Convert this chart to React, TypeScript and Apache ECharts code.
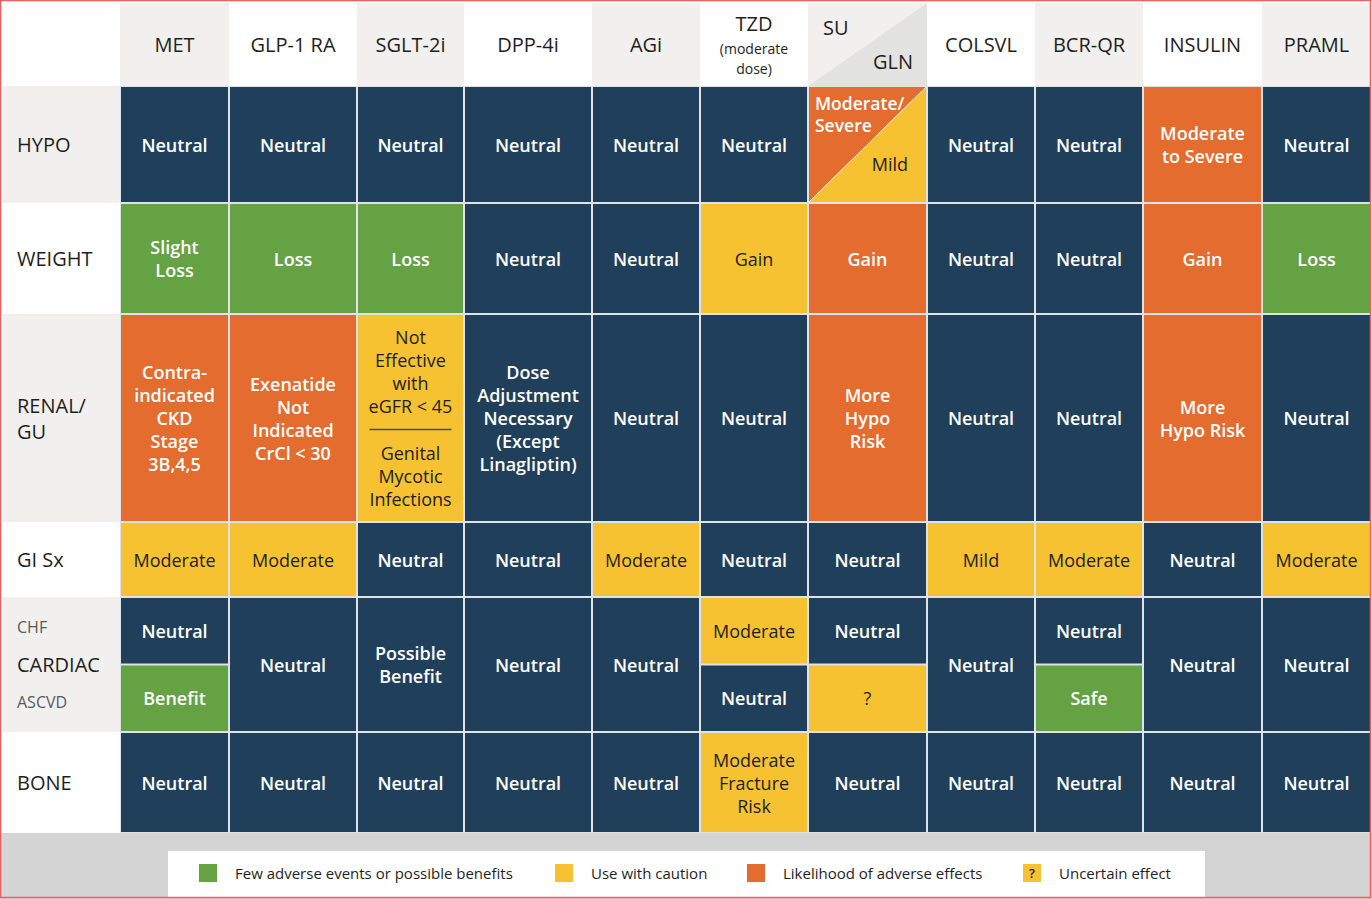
import React, { useEffect, useRef } from "react";
import * as echarts from "echarts";

// ---------------- data ----------------
const drugs = ["MET", "GLP-1 RA", "SGLT-2i", "DPP-4i", "AGi", "TZD", "SU|GLN", "COLSVL", "BCR-QR", "INSULIN", "PRAML"];
const tzdNote = "(moderate\ndose)";
const effects = ["HYPO", "WEIGHT", "RENAL/\nGU", "GI Sx", "CARDIAC", "BONE"];
const cardiacSub = ["CHF", "ASCVD"];

// level codes: N neutral, G benefit, Y caution, O adverse
const hypoLevel = ["N", "N", "N", "N", "N", "N", "O|Y", "N", "N", "O", "N"];
const hypoText = ["Neutral", "Neutral", "Neutral", "Neutral", "Neutral", "Neutral", "Moderate/\nSevere|Mild", "Neutral", "Neutral", "Moderate\nto Severe", "Neutral"];
const weightLevel = ["G", "G", "G", "N", "N", "Y", "O", "N", "N", "O", "G"];
const weightText = ["Slight\nLoss", "Loss", "Loss", "Neutral", "Neutral", "Gain", "Gain", "Neutral", "Neutral", "Gain", "Loss"];
const renalLevel = ["O", "O", "Y", "N", "N", "N", "O", "N", "N", "O", "N"];
const renalText = [
  "Contra-\nindicated\nCKD\nStage\n3B,4,5",
  "Exenatide\nNot\nIndicated\nCrCl < 30",
  "Not\nEffective\nwith\neGFR < 45||Genital\nMycotic\nInfections",
  "Dose\nAdjustment\nNecessary\n(Except\nLinagliptin)",
  "Neutral", "Neutral", "More\nHypo\nRisk", "Neutral", "Neutral", "More\nHypo Risk", "Neutral",
];
const giLevel = ["Y", "Y", "N", "N", "Y", "N", "N", "Y", "Y", "N", "Y"];
const giText = ["Moderate", "Moderate", "Neutral", "Neutral", "Moderate", "Neutral", "Neutral", "Mild", "Moderate", "Neutral", "Moderate"];
// cardiac: CHF (top) / ASCVD (bottom); empty ASCVD entry = one finding for both
const chfLevel = ["N", "N", "N", "N", "N", "Y", "N", "N", "N", "N", "N"];
const chfText = ["Neutral", "Neutral", "Possible\nBenefit", "Neutral", "Neutral", "Moderate", "Neutral", "Neutral", "Neutral", "Neutral", "Neutral"];
const ascvdLevel = ["G", "", "", "", "", "N", "Y", "", "G", "", ""];
const ascvdText = ["Benefit", "", "", "", "", "Neutral", "?", "", "Safe", "", ""];
const boneLevel = ["N", "N", "N", "N", "N", "Y", "N", "N", "N", "N", "N"];
const boneText = ["Neutral", "Neutral", "Neutral", "Neutral", "Neutral", "Moderate\nFracture\nRisk", "Neutral", "Neutral", "Neutral", "Neutral", "Neutral"];

const legendLevels = ["G", "Y", "O", "?"];
const legendLabels = ["Few adverse events or possible benefits", "Use with caution", "Likelihood of adverse effects", "Uncertain effect"];

// ---------------- layout / style ----------------
const COL_W = [117, 109, 128, 107, 128, 108, 108, 119, 108, 108, 119, 109];
const ROW_H = [83, 117, 111, 208, 75, 135, 101];
const LEGEND_X = [199, 555, 747, 1023];

const COLORS: Record<string, string> = { N: "#1f3f5a", G: "#65a244", Y: "#f6c232", O: "#e46c2e" };
const HEAD_GRAY = "#f1f0ee";
const HEAD_GRAY2 = "#e2e3e0";
const GAP = "#dfe3e6";
const FONT = "'Open Sans', 'Noto Sans', sans-serif";
const DARK = "#1e1e1e";

const colEdges = [0];
COL_W.forEach((w) => colEdges.push(colEdges[colEdges.length - 1] + w));
const rowEdges = [0];
ROW_H.forEach((h) => rowEdges.push(rowEdges[rowEdges.length - 1] + h));
const TOTAL_W = colEdges[colEdges.length - 1];
const TOTAL_H = rowEdges[rowEdges.length - 1];

type Cell = { kind: string; level?: string; text?: string; idx: number; value: number[] };
const cells: Cell[] = [];

// background of body (gap colour)
cells.push({ kind: "gap", idx: 0, value: [colEdges[0], TOTAL_W, rowEdges[1], TOTAL_H] });
// corner
cells.push({ kind: "corner", idx: 0, value: [colEdges[0], colEdges[1], rowEdges[0], rowEdges[1]] });
// headers
drugs.forEach((d, i) => {
  cells.push({ kind: "header", text: d, idx: i, value: [colEdges[i + 1], colEdges[i + 2], rowEdges[0], rowEdges[1]] });
});
// row labels
effects.forEach((e, r) => {
  cells.push({ kind: "rowlabel", text: e, idx: r, value: [colEdges[0], colEdges[1], rowEdges[r + 1], rowEdges[r + 2]] });
});
// body
const rowsData: (string[][] | null)[] = [
  [hypoLevel, hypoText],
  [weightLevel, weightText],
  [renalLevel, renalText],
  [giLevel, giText],
  null,
  [boneLevel, boneText],
];
rowsData.forEach((rd, r) => {
  const y0 = rowEdges[r + 1];
  const y1 = rowEdges[r + 2];
  drugs.forEach((_, i) => {
    const x0 = colEdges[i + 1];
    const x1 = colEdges[i + 2];
    if (rd) {
      cells.push({ kind: "cell", level: rd[0][i], text: rd[1][i], idx: i, value: [x0, x1, y0, y1] });
    } else if (!ascvdLevel[i]) {
      cells.push({ kind: "cell", level: chfLevel[i], text: chfText[i], idx: i, value: [x0, x1, y0, y1] });
    } else {
      const mid = (y0 + y1) / 2;
      cells.push({ kind: "cell", level: chfLevel[i], text: chfText[i], idx: i, value: [x0, x1, y0, mid] });
      cells.push({ kind: "cell", level: ascvdLevel[i], text: ascvdText[i], idx: i, value: [x0, x1, mid, y1] });
    }
  });
});

function txt(text: string, x: number, y: number, opts: any = {}) {
  return {
    type: "text",
    x,
    y,
    style: {
      text,
      fill: opts.fill || "#fff",
      fontSize: opts.fontSize || 18,
      fontFamily: FONT,
      fontWeight: opts.fontWeight || 400,
      align: opts.align || "center",
      verticalAlign: opts.verticalAlign || "middle",
      lineHeight: opts.lineHeight || 23,
    },
  };
}

function cellTextStyle(level: string) {
  const dark = level === "Y";
  return { fill: dark ? DARK : "#ffffff", fontWeight: dark ? 400 : 600, fontSize: 18, lineHeight: 23 };
}

const renderItem = (params: any, api: any) => {
  const c = cells[params.dataIndex];
  const p0 = api.coord([api.value(0), api.value(2)]);
  const p1 = api.coord([api.value(1), api.value(3)]);
  const x0 = p0[0], y0 = p0[1], x1 = p1[0], y1 = p1[1];
  const cx = (x0 + x1) / 2, cy = (y0 + y1) / 2;
  const children: any[] = [];

  if (c.kind === "gap") {
    children.push({ type: "rect", shape: { x: x0, y: y0, width: x1 - x0, height: y1 - y0 }, style: { fill: GAP } });
  } else if (c.kind === "corner") {
    children.push({ type: "rect", shape: { x: x0, y: y0, width: x1 - x0, height: y1 - y0 }, style: { fill: "#ffffff" } });
  } else if (c.kind === "header") {
    const bg = c.idx % 2 === 0 ? HEAD_GRAY : "#ffffff";
    const hs = { fill: DARK, fontSize: 20 };
    if (c.text!.indexOf("|") >= 0) {
      const [a, b] = c.text!.split("|");
      children.push({ type: "polygon", shape: { points: [[x0, y0], [x1, y0], [x0, y1]] }, style: { fill: HEAD_GRAY } });
      children.push({ type: "polygon", shape: { points: [[x1, y0], [x1, y1], [x0, y1]] }, style: { fill: HEAD_GRAY2 } });
      children.push(txt(a, x0 + 15, y0 + 24, { ...hs, align: "left" }));
      children.push(txt(b, x1 - 14, y0 + 58, { ...hs, align: "right" }));
    } else {
      children.push({ type: "rect", shape: { x: x0, y: y0, width: x1 - x0, height: y1 - y0 }, style: { fill: bg } });
      if (c.text === "TZD") {
        children.push(txt(c.text, cx, y0 + 20, hs));
        children.push(txt(tzdNote, cx, y0 + 55, { fill: DARK, fontSize: 14, lineHeight: 20 }));
      } else {
        children.push(txt(c.text!, cx, cy, hs));
      }
    }
  } else if (c.kind === "rowlabel") {
    const bg = c.idx % 2 === 0 ? HEAD_GRAY : "#ffffff";
    children.push({ type: "rect", shape: { x: x0, y: y0, width: x1 - x0, height: y1 - y0 }, style: { fill: bg } });
    const lx = x0 + 14;
    if (c.text === "CARDIAC") {
      children.push(txt(cardiacSub[0], lx, cy - 38, { fill: "#5a5a5a", fontSize: 16, align: "left" }));
      children.push(txt(c.text, lx, cy, { fill: DARK, fontSize: 20, align: "left" }));
      children.push(txt(cardiacSub[1], lx, cy + 37, { fill: "#5a5a5a", fontSize: 16, align: "left" }));
    } else {
      children.push(txt(c.text!, lx, cy, { fill: DARK, fontSize: 20, align: "left", lineHeight: 26 }));
    }
  } else if (c.kind === "cell") {
    const ix0 = x0 + 1, iy0 = y0 + 1, ix1 = x1 - 1, iy1 = y1 - 1;
    const lv = c.level!;
    if (lv.indexOf("|") >= 0) {
      const [la, lb] = lv.split("|");
      const [ta, tb] = c.text!.split("|");
      children.push({ type: "polygon", shape: { points: [[ix0, iy0], [ix1, iy0], [ix0, iy1]] }, style: { fill: COLORS[la] } });
      children.push({ type: "polygon", shape: { points: [[ix1, iy0], [ix1, iy1], [ix0, iy1]] }, style: { fill: COLORS[lb] } });
      children.push({ type: "line", shape: { x1: ix0, y1: iy1, x2: ix1, y2: iy0 }, style: { stroke: "#f6efe0", lineWidth: 1 } });
      children.push(txt(ta, ix0 + 6, iy0 + 5, { ...cellTextStyle(la), fontSize: 17.5, align: "left", verticalAlign: "top", lineHeight: 22 }));
      children.push(txt(tb, ix1 - 18, iy1 - 38, { ...cellTextStyle(lb), align: "right" }));
    } else {
      children.push({ type: "rect", shape: { x: ix0, y: iy0, width: ix1 - ix0, height: iy1 - iy0 }, style: { fill: COLORS[lv] } });
      const st = cellTextStyle(lv);
      if (c.text!.indexOf("||") >= 0) {
        const [ta, tb] = c.text!.split("||");
        const na = ta.split("\n").length, nb = tb.split("\n").length;
        const lh = 23, gap = 24;
        const total = na * lh + gap + nb * lh;
        const start = cy - total / 2;
        children.push(txt(ta, cx, start + (na * lh) / 2, st));
        children.push({ type: "line", shape: { x1: cx - 41, y1: start + na * lh + gap / 2, x2: cx + 41, y2: start + na * lh + gap / 2 }, style: { stroke: "#5b4a1e", lineWidth: 1.5 } });
        children.push(txt(tb, cx, start + na * lh + gap + (nb * lh) / 2, st));
      } else {
        children.push(txt(c.text!, cx, cy, st));
      }
    }
  }
  return { type: "group", children };
};

// legend graphic
const legendGraphic: any[] = [
  { type: "rect", shape: { x: 0, y: 833, width: 1372, height: 66 }, style: { fill: "#d4d4d4" } },
  { type: "rect", shape: { x: 168, y: 851, width: 1037, height: 46 }, style: { fill: "#ffffff" } },
];
legendLevels.forEach((lv, i) => {
  const x = LEGEND_X[i];
  const fill = lv === "?" ? COLORS.Y : COLORS[lv];
  legendGraphic.push({ type: "rect", shape: { x, y: 864, width: 18, height: 18 }, style: { fill } });
  if (lv === "?") {
    legendGraphic.push({
      type: "text", x: x + 9, y: 873,
      style: { text: "?", fill: DARK, fontSize: 13, fontFamily: FONT, fontWeight: 600, align: "center", verticalAlign: "middle" },
    });
  }
  legendGraphic.push({
    type: "text", x: x + 36, y: 873,
    style: { text: legendLabels[i], fill: DARK, fontSize: 15, fontFamily: FONT, align: "left", verticalAlign: "middle" },
  });
});
legendGraphic.push({
  type: "rect", z: 100, shape: { x: 0.5, y: 0.5, width: 1370, height: 897 },
  style: { fill: "none", stroke: "#ef5f5f", lineWidth: 1.5 },
});

const option: any = {
  animation: false,
  backgroundColor: "#ffffff",
  grid: { left: 3, top: 3, width: TOTAL_W, height: TOTAL_H, containLabel: false },
  xAxis: { type: "value", min: 0, max: TOTAL_W, show: false },
  yAxis: { type: "value", min: 0, max: TOTAL_H, inverse: true, show: false },
  series: [
    {
      type: "custom",
      renderItem,
      clip: false,
      encode: { x: [0, 1], y: [2, 3] },
      data: cells.map((c) => c.value),
      silent: true,
    },
  ],
  graphic: legendGraphic,
};

export default function App() {
  const ref = useRef<HTMLDivElement>(null);
  useEffect(() => {
    const chart = echarts.init(ref.current!, null, { renderer: "svg" });
    chart.setOption(option);
    return () => chart.dispose();
  }, []);
  return <div ref={ref} style={{ position: "absolute", left: 0, top: 0, width: 1372, height: 899 }} />;
}
